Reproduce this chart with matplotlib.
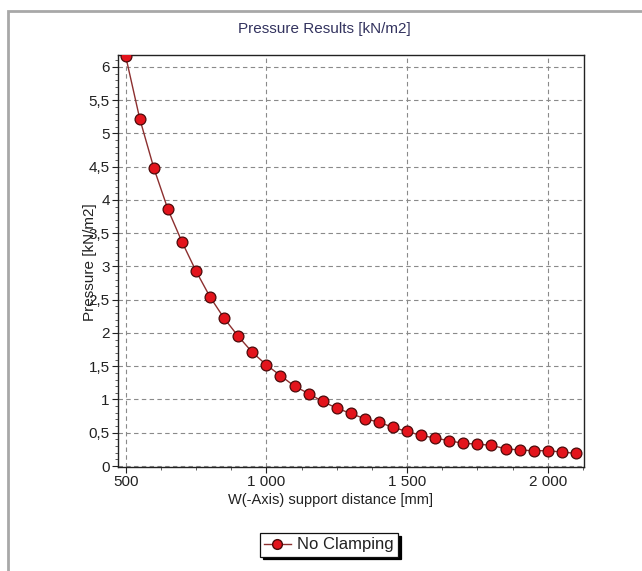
import matplotlib
matplotlib.use('Agg')
import matplotlib.pyplot as plt
import matplotlib.ticker as mtick
from matplotlib.patches import Rectangle

plt.rcParams['font.family'] = ['Liberation Sans', 'DejaVu Sans']

distance = [500, 550, 600, 650, 700, 750, 800, 850, 900, 950, 1000, 1050, 1100, 1150,
            1200, 1250, 1300, 1350, 1400, 1450, 1500, 1550, 1600, 1650, 1700, 1750,
            1800, 1850, 1900, 1950, 2000, 2050, 2100]
pressure = [6.16, 5.22, 4.48, 3.86, 3.37, 2.93, 2.54, 2.22, 1.95, 1.71, 1.52, 1.36, 1.20, 1.09,
            0.97, 0.87, 0.79, 0.71, 0.66, 0.58, 0.52, 0.46, 0.42, 0.38, 0.34, 0.33,
            0.31, 0.26, 0.24, 0.23, 0.23, 0.21, 0.19]
x_ticks = [500, 1000, 1500, 2000]
y_ticks = [0, 0.5, 1, 1.5, 2, 2.5, 3, 3.5, 4, 4.5, 5, 5.5, 6]

fig = plt.figure(figsize=(6.42, 5.71), dpi=100)

# outer panel border (gray, open to the right/bottom)
fig.patches.append(Rectangle((8 / 642, -0.05), 1.0, 1 - 11 / 571 + 0.05, transform=fig.transFigure,
                             fill=False, edgecolor='#a8a8a8', linewidth=2.0))

ax = fig.add_axes([118 / 642, 1 - 467 / 571, 466 / 642, 412 / 571])
ax.plot(distance, pressure, '-', color='#8c2f2f', linewidth=1.0, zorder=3)
ax.plot(distance, pressure, 'o', markersize=7.8, markerfacecolor='#e3141c',
        markeredgecolor='#4a0a0a', markeredgewidth=0.9, zorder=4)

ax.set_xlim(472.6, 2129)
ax.set_ylim(-0.015, 6.18)
ax.set_xticks(x_ticks)
ax.set_yticks(y_ticks)
ax.xaxis.set_minor_locator(mtick.MultipleLocator(125))
ax.yaxis.set_minor_locator(mtick.MultipleLocator(0.1))
ax.xaxis.set_major_formatter(mtick.FuncFormatter(lambda v, p: f'{int(v):,}'.replace(',', ' ')))
ax.yaxis.set_major_formatter(mtick.FuncFormatter(
    lambda v, p: (f'{v:g}').replace('.', ',')))
ax.tick_params(which='major', length=4, width=0.8, labelsize=11, colors='#222222', pad=2)
ax.tick_params(which='minor', length=2, width=0.6, colors='#444444')
ax.tick_params(top=False, right=False, which='both')
ax.grid(True, which='major', linestyle=(0, (4, 3)), color='#8a8a8a', linewidth=0.8)
for s in ax.spines.values():
    s.set_linewidth(1.0)
    s.set_color('#222222')

fig.text(0.506, 1 - 29 / 571, 'Pressure Results [kN/m2]', ha='center', va='center',
         fontsize=11, color='#33335f')
fig.text(331 / 642, 1 - 500 / 571, 'W(-Axis) support distance [mm]', ha='center', va='center',
         fontsize=10.5, color='#222222')
fig.text(90 / 642, 1 - 262 / 571, 'Pressure [kN/m2]', ha='center', va='center',
         rotation=90, fontsize=11, color='#222222')

handle = plt.Line2D([], [], color='#8c2f2f', linewidth=1.0, marker='o', markersize=7,
                    markerfacecolor='#e3141c', markeredgecolor='#4a0a0a')
leg = fig.legend([handle], ['No Clamping'], loc='center', bbox_to_anchor=(329 / 642, 1 - 545 / 571),
                 frameon=True, fancybox=False, edgecolor='#111111', framealpha=1,
                 shadow={'color': 'black', 'alpha': 1.0}, fontsize=12, handlelength=1.6,
                 handletextpad=0.4, borderpad=0.25, borderaxespad=0)
leg.get_frame().set_linewidth(0.9)
for t in leg.get_texts():
    t.set_color('#222222')

fig.savefig('out.png', dpi=100)
